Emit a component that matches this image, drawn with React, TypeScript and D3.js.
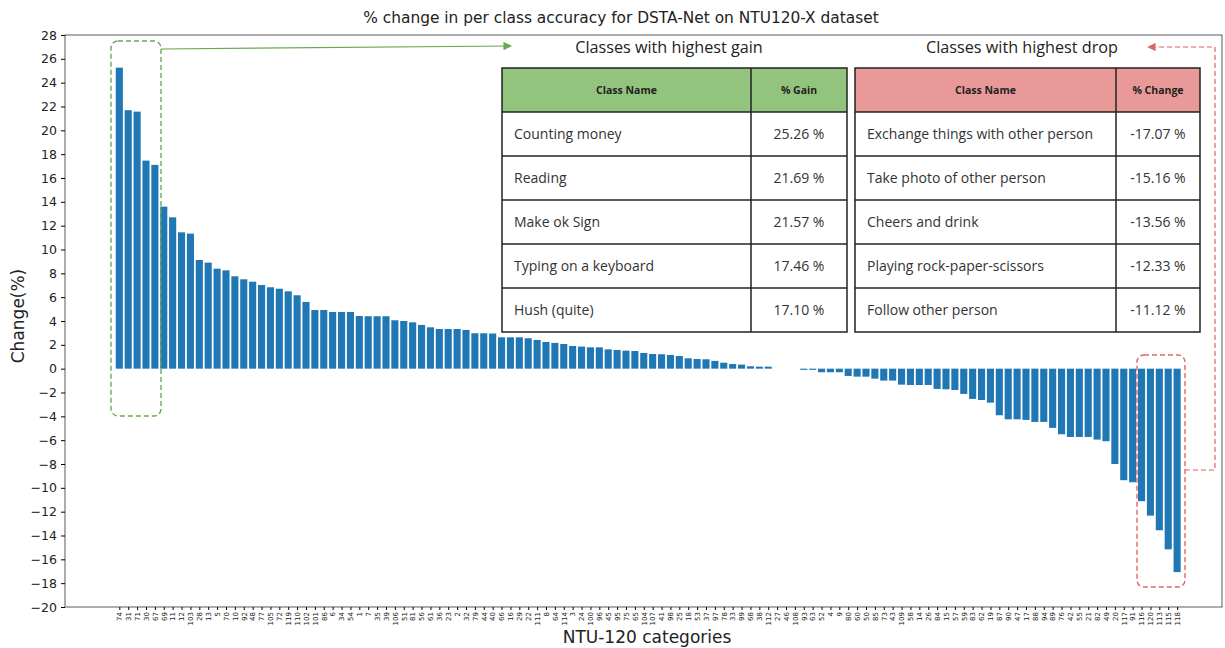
import React, { useEffect, useRef } from 'react';
import { select, scaleLinear, axisLeft, axisBottom, range } from 'd3';

// class ids, in the order they are plotted (sorted by change)
const classIds = [
  '74', '31', '71', '30', '67', '69', '11', '12', '103', '28', '13', '5', '70', '10', '92', '48', '77', '105', '72', '119',
  '110', '102', '101', '86', '6', '34', '54', '1', '7', '35', '39', '106', '51', '81', '56', '61', '36', '23', '2', '32',
  '79', '44', '40', '66', '16', '29', '22', '111', '8', '64', '114', '3', '24', '100', '96', '45', '95', '75', '65', '104',
  '107', '41', '98', '25', '18', '53', '37', '97', '78', '33', '99', '68', '38', '112', '27', '46', '108', '93', '63', '52',
  '4', '9', '80', '60', '50', '85', '73', '43', '109', '58', '14', '26', '84', '15', '57', '59', '83', '62', '19', '87',
  '90', '47', '17', '88', '94', '89', '76', '42', '55', '21', '82', '49', '20', '117', '91', '116', '120', '113', '115', '118'
];

const positiveChanges = [
  25.26, 21.69, 21.57, 17.46, 17.10, 13.6, 12.7, 11.44, 11.33, 9.12, 8.9, 8.39, 8.25, 7.75, 7.5, 7.3, 7.02, 6.83, 6.71, 6.49,
  6.16, 5.6, 4.92, 4.92, 4.76, 4.76, 4.76, 4.42, 4.4, 4.4, 4.4, 4.06, 4.0, 3.89, 3.67, 3.47, 3.33, 3.33, 3.33, 3.25,
  2.97, 2.97, 2.95, 2.63, 2.63, 2.63, 2.55, 2.41, 2.24, 2.16, 2.07, 1.9, 1.85, 1.79, 1.79, 1.62, 1.57, 1.51, 1.48, 1.32,
  1.23, 1.21, 1.15, 1.06, 0.87, 0.81, 0.79, 0.65, 0.5, 0.39, 0.34, 0.2, 0.17, 0.17
];
const zeroChanges = [0, 0, 0];
const negativeChanges = [
  -0.1, -0.1, -0.3, -0.3, -0.3, -0.61, -0.67, -0.67, -0.84, -1.0, -1.0, -1.34, -1.37, -1.37, -1.37, -1.7, -1.73, -1.79, -2.12, -2.54,
  -2.63, -2.85, -3.91, -4.25, -4.25, -4.3, -4.47, -4.47, -4.97, -5.5, -5.73, -5.73, -5.73, -5.95, -6.09, -8.0, -9.36, -9.53, -11.12, -12.33,
  -13.56, -15.16, -17.07
];
const changes = [...positiveChanges, ...zeroChanges, ...negativeChanges];

const yTicks = range(-20, 29, 2);

const gainNames = ['Counting money', 'Reading', 'Make ok Sign', 'Typing on a keyboard', 'Hush (quite)'];
const gainValues = ['25.26 %', '21.69 %', '21.57 %', '17.46 %', '17.10 %'];
const dropNames = ['Exchange things with other person', 'Take photo of other person', 'Cheers and drink', 'Playing rock-paper-scissors', 'Follow other person'];
const dropValues = ['-17.07 %', '-15.16 %', '-13.56 %', '-12.33 %', '-11.12 %'];

const W = 1225, H = 648;
const left = 65, right = 1222, top = 35, bottom = 607;
const tableFont = '"Open Sans", "Noto Sans", sans-serif';
const axisFont = '"DejaVu Sans", sans-serif';

function Table({ x, y, colW, headW, names, values, head, fill }) {
  const rowH = 44;
  const headH = 44;
  const w = colW + headW;
  return (
    <g transform={`translate(${x},${y})`} fontFamily={tableFont}>
      <rect x={0} y={0} width={w} height={headH + rowH * names.length} fill="white" />
      <rect x={0} y={0} width={w} height={headH} fill={fill} />
      <text x={colW / 2} y={headH / 2 + 4} textAnchor="middle" fontSize={10.5} fontWeight="bold" fill="#222">Class Name</text>
      <text x={colW + headW / 2} y={headH / 2 + 4} textAnchor="middle" fontSize={10.5} fontWeight="bold" fill="#222">{head}</text>
      {names.map((n, i) => (
        <g key={n} transform={`translate(0,${headH + rowH * i})`}>
          <text x={12} y={rowH / 2 + 5} fontSize={14} fill="#333">{n}</text>
          <text x={colW + headW / 2} y={rowH / 2 + 5} textAnchor="middle" fontSize={14} fill="#333">{values[i]}</text>
          <line x1={0} x2={w} y1={0} y2={0} stroke="#222" strokeWidth={1.5} />
        </g>
      ))}
      <line x1={colW} x2={colW} y1={0} y2={headH + rowH * names.length} stroke="#222" strokeWidth={1.5} />
      <rect x={0} y={0} width={w} height={headH + rowH * names.length} fill="none" stroke="#222" strokeWidth={1.5} />
    </g>
  );
}

export default function App() {
  const xAxisRef = useRef(null);
  const yAxisRef = useRef(null);

  const xScale = scaleLinear().domain([-6.11, 124.05]).range([left, right]);
  const yScale = scaleLinear().domain([-20, 28]).range([bottom, top]);
  const barW = (xScale(0.8) - xScale(0));

  useEffect(() => {
    const yAxis = axisLeft(yScale).tickValues(yTicks).tickSize(4).tickPadding(4);
    select(yAxisRef.current).call(yAxis)
      .call(g => g.select('.domain').remove())
      .selectAll('text').attr('font-size', 12.5).attr('font-family', axisFont).attr('fill', '#222');

    const xAxis = axisBottom(xScale)
      .tickValues(range(classIds.length))
      .tickFormat(i => classIds[i])
      .tickSize(3);
    const gx = select(xAxisRef.current).call(xAxis);
    gx.select('.domain').remove();
    gx.selectAll('text')
      .attr('font-size', 7)
      .attr('font-family', axisFont)
      .attr('fill', '#222')
      .attr('transform', 'rotate(-90)')
      .attr('text-anchor', 'end')
      .attr('x', -5)
      .attr('y', 0)
      .attr('dy', '0.32em');
  }, []);

  return (
    <svg width={W} height={H} style={{ position: 'absolute', left: 0, top: 0, background: 'white' }}>
      <text x={621} y={23} textAnchor="middle" fontFamily={axisFont} fontSize={15.4} fill="#222">
        % change in per class accuracy for DSTA-Net on NTU120-X dataset
      </text>

      {/* bars */}
      {changes.map((v, i) => (
        <rect key={i}
          x={xScale(i) - barW / 2}
          y={yScale(Math.max(0, v))}
          width={barW}
          height={Math.abs(yScale(v) - yScale(0))}
          fill="#1f77b4" />
      ))}

      {/* spines */}
      <rect x={left} y={top} width={right - left} height={bottom - top} fill="none" stroke="#333" strokeWidth={0.8} />
      <g ref={yAxisRef} transform={`translate(${left},0)`} />
      <g ref={xAxisRef} transform={`translate(0,${bottom})`} />

      <text x={647} y={643} textAnchor="middle" fontFamily={axisFont} fontSize={17} fill="#222">NTU-120 categories</text>
      <text transform={`translate(24,${(top + bottom) / 2 - 5}) rotate(-90)`} textAnchor="middle" fontFamily={axisFont} fontSize={17} fill="#222">Change(%)</text>

      {/* highlight around top gains */}
      <rect x={111} y={41} width={50} height={375} rx={7} fill="none" stroke="#6aa84f" strokeWidth={1.4} strokeDasharray="5,3" />
      <defs>
        <marker id="gArrow" viewBox="0 0 10 10" refX={9} refY={5} markerWidth={7} markerHeight={7} orient="auto">
          <path d="M0,0 L10,5 L0,10 z" fill="#6aa84f" />
        </marker>
        <marker id="rArrow" viewBox="0 0 10 10" refX={9} refY={5} markerWidth={7} markerHeight={7} orient="auto">
          <path d="M0,0 L10,5 L0,10 z" fill="#e06666" />
        </marker>
      </defs>
      <line x1={161} y1={49} x2={511} y2={46} stroke="#6aa84f" strokeWidth={1.2} markerEnd="url(#gArrow)" />

      {/* highlight around top drops */}
      <rect x={1137} y={355} width={48} height={232} rx={7} fill="none" stroke="#e06666" strokeWidth={1.4} strokeDasharray="5,3" />
      <polyline points="1185,470 1215,470 1215,47 1148,47" fill="none" stroke="#e06666" strokeWidth={1.2} strokeDasharray="5,3" markerEnd="url(#rArrow)" />

      <text x={669} y={53} textAnchor="middle" fontFamily={tableFont} fontSize={16.2} fill="#222">Classes with highest gain</text>
      <text x={1022} y={53} textAnchor="middle" fontFamily={tableFont} fontSize={16.2} fill="#222">Classes with highest drop</text>

      <Table x={502} y={68} colW={249} headW={96} names={gainNames} values={gainValues} head="% Gain" fill="#93c47d" />
      <Table x={855} y={68} colW={261} headW={84} names={dropNames} values={dropValues} head="% Change" fill="#ea9999" />
    </svg>
  );
}
